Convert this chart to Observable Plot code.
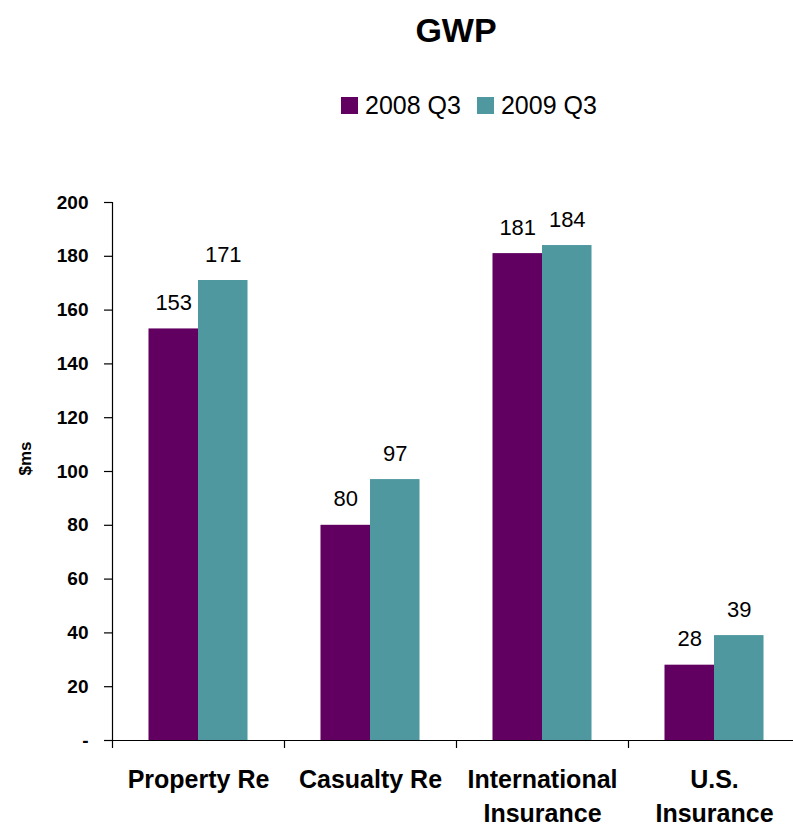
<!DOCTYPE html>
<html>
<head>
<meta charset="utf-8">
<script src="https://cdn.jsdelivr.net/npm/d3@7"></script>
<script src="https://cdn.jsdelivr.net/npm/@observablehq/plot@0.6"></script>
<style>
  html, body { margin: 0; padding: 0; background: #fff; }
  body { width: 793px; height: 827px; overflow: hidden; font-family: "Liberation Sans", Arial, sans-serif; }
  #title { height: 70px; box-sizing: border-box; padding-top: 12px; margin-left: 112px; width: 688px;
           text-align: center; font-weight: bold; font-size: 34px; line-height: 36px; color: #000; }
  #legend { height: 80px; box-sizing: border-box; padding-top: 22px; padding-left: 341px;
            display: flex; align-items: flex-start; font-size: 25px; line-height: 26px; color: #000; }
  #legend .item { display: flex; align-items: center; margin-right: 16px; height: 26px; }
  #legend .sw { width: 17px; height: 17px; margin-right: 7px; }
  #chart svg { display: block; overflow: visible; }
</style>
</head>
<body>
<div id="title">GWP</div>
<div id="legend"></div>
<div id="chart"></div>
<script>
const categories = ["Property Re", "Casualty Re", "International\nInsurance", "U.S.\nInsurance"];
const series = ["2008 Q3", "2009 Q3"];
const values2008 = [153, 80, 181, 28];
const values2009 = [171, 97, 184, 39];
const yTicks = [0, 20, 40, 60, 80, 100, 120, 140, 160, 180, 200];
const yTickLabels = ["-", "20", "40", "60", "80", "100", "120", "140", "160", "180", "200"];
const colors = ["#610061", "#4F98A0"];
const yLabel = "$ms";

const seriesValues = [values2008, values2009];
const data = [];
categories.forEach((c, i) => {
  series.forEach((s, j) => data.push({category: c, series: s, value: seriesValues[j][i]}));
});

// legend
const legend = document.getElementById("legend");
series.forEach((s, j) => {
  const item = document.createElement("div");
  item.className = "item";
  const sw = document.createElement("div");
  sw.className = "sw";
  sw.style.background = colors[j];
  const t = document.createElement("span");
  t.textContent = s;
  item.appendChild(sw); item.appendChild(t);
  legend.appendChild(item);
});

const chart = Plot.plot({
  width: 793,
  height: 677,
  marginTop: 52,
  marginBottom: 87,
  marginLeft: 112,
  marginRight: -7,
  style: {fontFamily: "'Liberation Sans', Arial, sans-serif", color: "#000", background: "transparent", overflow: "visible"},
  fx: {domain: categories, padding: 0, label: null, axis: null},
  x: {domain: series, paddingInner: 0, paddingOuter: 0.737, axis: null, round: false},
  y: {domain: [0, 200], label: null, axis: null},
  color: {domain: series, range: colors},
  marks: [
    Plot.barY(data, {fx: "category", x: "series", y: "value", fill: "series"}),
    Plot.text(data, {fx: "category", x: "series", y: "value", text: d => String(d.value),
      lineAnchor: "bottom", dy: -19, fontSize: 22, fill: "#000"}),
    Plot.ruleY([0], {stroke: "#000", strokeWidth: 1.2}),
    Plot.frame({anchor: "left", facetAnchor: "left", stroke: "#000", strokeWidth: 1.2}),
    Plot.axisY({ticks: yTicks, tickFormat: d => yTickLabels[yTicks.indexOf(d)], tickSize: 8, tickPadding: 16,
      fontSize: 19, fontWeight: "bold", label: null, stroke: "#000", strokeWidth: 1.2}),
    Plot.axisFx({anchor: "bottom", tickSize: 8, dx: -86, tickFormat: () => "", label: null, stroke: "#000", strokeWidth: 1.2}),
    Plot.axisFx({anchor: "bottom", tickSize: 0, tickPadding: 23, fontSize: 25, fontWeight: "bold",
      lineHeight: 1.36, label: null}),
    Plot.text([yLabel], {facet: "super", frameAnchor: "left", dx: -87, dy: 4, rotate: -90, fontSize: 17, fontWeight: "bold", fill: "#000"})
  ]
});
document.getElementById("chart").appendChild(chart);
</script>
</body>
</html>
